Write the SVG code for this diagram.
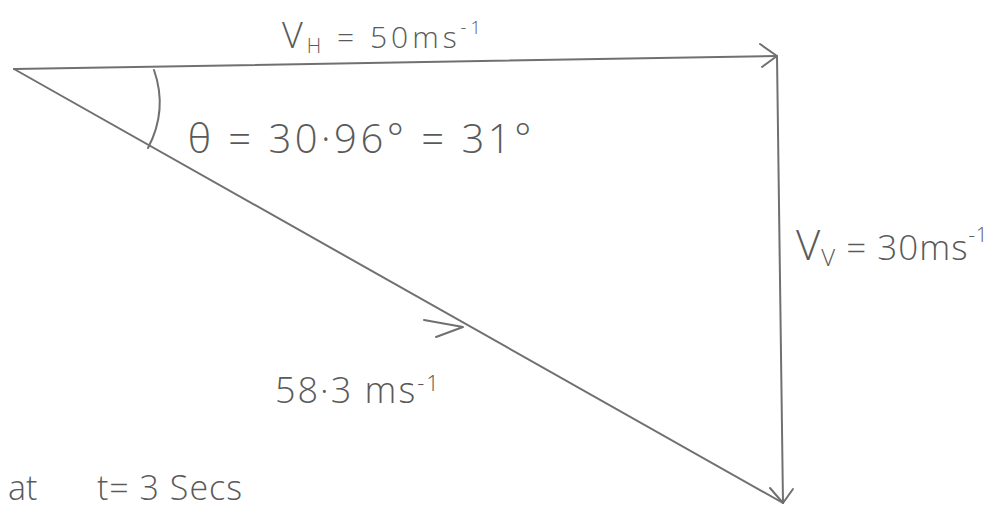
<svg xmlns="http://www.w3.org/2000/svg" width="1008" height="510" viewBox="0 0 1008 510">
<style>
.ln{stroke:#707070;stroke-width:2;fill:none;stroke-linecap:round;stroke-linejoin:round}
.t{font-family:"Open Sans","Liberation Sans",sans-serif;font-weight:300;fill:#5a5a5a}
</style>
<rect width="1008" height="510" fill="#fff"/>
<g id="connectors">
<path class="ln" d="M14,69 L777,56"/>
<path class="ln" d="M760,44 L777,56 L762,67"/>
<path class="ln" d="M777,56 L783,503"/>
<path class="ln" d="M770,488 L783,503 L793,489"/>
<path class="ln" d="M14,69 L783,503"/>
<path class="ln" d="M424,320 L463,327 L436,337"/>
<path class="ln" d="M154,70 Q168,110 148,148"/>
</g>
<g id="label-vh">
<text class="t" x="282" y="48" font-size="36" letter-spacing="4">V<tspan font-size="20" dy="5">H</tspan><tspan dy="-5" font-size="30"> = 50ms</tspan><tspan font-size="18" dy="-14">-1</tspan></text>
</g>
<g id="label-theta">
<text class="t" x="188" y="153" font-size="40" letter-spacing="3.5">θ = 30·96° = 31°</text>
</g>
<g id="label-vv">
<text class="t" x="796" y="260" font-size="42" letter-spacing="1">V<tspan font-size="24" dy="6">V</tspan><tspan dy="-6" font-size="35"> = 30ms</tspan><tspan font-size="20" dy="-18">-1</tspan></text>
</g>
<g id="label-resultant">
<text class="t" x="275" y="403" font-size="36" letter-spacing="2">58·3 ms<tspan font-size="22" dy="-12">-1</tspan></text>
</g>
<g id="label-time">
<text class="t" x="8" y="500" font-size="34">at</text>
<text class="t" x="97" y="500" font-size="34" letter-spacing="1">t= 3 Secs</text>
</g>
</svg>
